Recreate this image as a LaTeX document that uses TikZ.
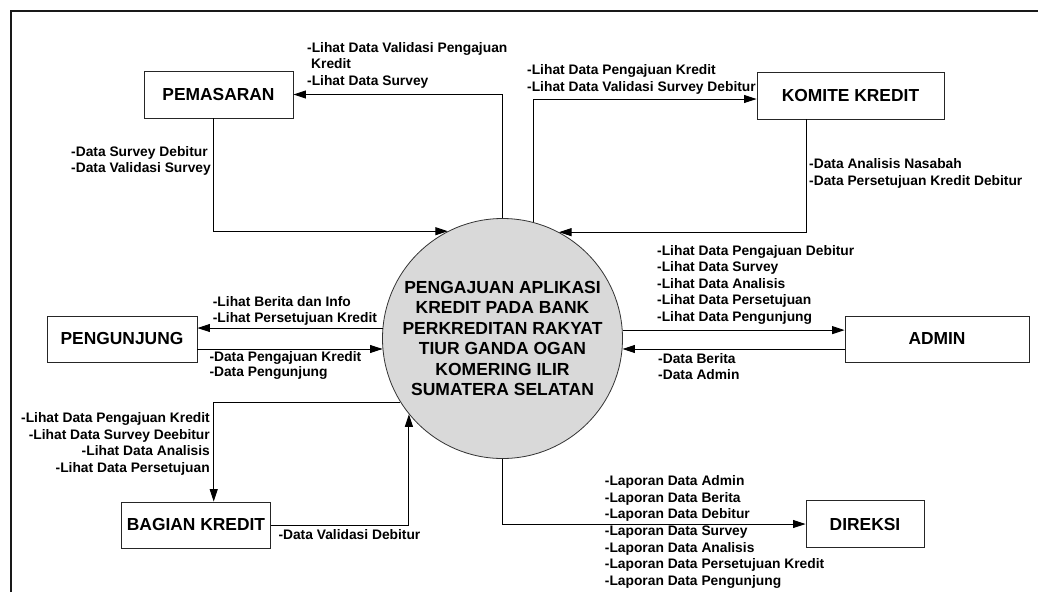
\documentclass[tikz,border=0pt]{standalone}
\usepackage{fontspec}
\setmainfont{Liberation Sans}
\usetikzlibrary{arrows.meta}
\begin{document}
\begin{tikzpicture}[x=1pt,y=-1pt,
  ent/.style={draw=black!85, line width=0.9pt, inner sep=0pt, font=\fontsize{17.4}{20.5}\selectfont\bfseries},
  lbl/.style={inner sep=0pt, align=left, anchor=north west, font=\fontsize{13.8}{16.6}\selectfont\bfseries},
  flow/.style={draw=black, line width=0.9pt, -{Triangle[length=12.5pt,width=8pt]}}]
\useasboundingbox (0,0) rectangle (1038,592);
\draw[line width=2pt, draw=black!90] (10.5,592) -- (10.5,11) -- (1038,11);

% process
\node[circle, draw=black!80, line width=0.8pt, fill=gray!30, minimum size=240pt, inner sep=0pt, align=center,
      font=\fontsize{17.5}{20.5}\selectfont\bfseries] (c) at (502.5,338.5)
  {PENGAJUAN APLIKASI\\KREDIT PADA BANK\\PERKREDITAN RAKYAT\\TIUR GANDA OGAN\\KOMERING ILIR\\SUMATERA SELATAN};

% entities
\node[ent, minimum width=149pt, minimum height=47pt] (pem) at (218.5,94.5) {PEMASARAN};
\node[ent, minimum width=187pt, minimum height=47pt] (kom) at (850.5,95.5) {KOMITE KREDIT};
\node[ent, minimum width=150pt, minimum height=46pt] (pen) at (122,339) {PENGUNJUNG};
\node[ent, minimum width=149pt, minimum height=46pt] (bag) at (196,525) {BAGIAN KREDIT};
\node[ent, minimum width=184pt, minimum height=46pt] (adm) at (937,339) {ADMIN};
\node[ent, minimum width=118pt, minimum height=47pt] (dir) at (865,524) {DIREKSI};

% flows
\draw[flow] (c.north) |- (pem.east);
\draw[flow] ([xshift=-5pt]pem.south) |- (c.117.1);
\draw[flow] (c.75.8) |- ([yshift=-3.5pt]kom.west);
\draw[flow] ([xshift=-44pt]kom.south) |- (c.62.9);
\draw[flow] (c.4.06) -- (c.4.06 -| adm.west);
\draw[flow] (c.-5.2 -| adm.west) -- (c.-5.2);
\draw[flow] (c.175.94) -- (c.175.94 -| pen.east);
\draw[flow] (c.185.2 -| pen.east) -- (c.185.2);
\draw[flow] (c.212.7) -| ([xshift=17.7pt]bag.north);
\draw[flow] (bag.east) -| (c.219.4);
\draw[flow] (c.south) |- (dir.west);

% labels
\node[lbl] (l1) at (307,41.9) {-Lihat Data Validasi Pengajuan\\\hspace*{4pt}Kredit\\-Lihat Data Survey};
\node[lbl] (l2) at (71,145.9) {-Data Survey Debitur\\-Data Validasi Survey};
\node[lbl] (l3) at (527,64.2) {-Lihat Data Pengajuan Kredit\\-Lihat Data Validasi Survey Debitur};
\node[lbl] (l4) at (809,158.5) {-Data Analisis Nasabah\\-Data Persetujuan Kredit Debitur};
\node[lbl, font=\fontsize{13.8}{16.5}\selectfont\bfseries] (l5) at (657,245.2) {-Lihat Data Pengajuan Debitur\\-Lihat Data Survey\\-Lihat Data Analisis\\-Lihat Data Persetujuan\\-Lihat Data Pengunjung};
\node[lbl] (l6) at (658,352.9) {-Data Berita\\-Data Admin};
\node[lbl] (l7) at (212.7,295.9) {-Lihat Berita dan Info\\-Lihat Persetujuan Kredit};
\node[lbl, font=\fontsize{13.8}{15.4}\selectfont\bfseries] (l8) at (209.3,350.9) {-Data Pengajuan Kredit\\-Data Pengunjung};
\node[lbl, anchor=north east, align=right, font=\fontsize{13.8}{16.5}\selectfont\bfseries] (l9) at (210,412.5) {-Lihat Data Pengajuan Kredit\\-Lihat Data Survey Deebitur\\-Lihat Data Analisis\\-Lihat Data Persetujuan};
\node[lbl] (l10) at (278.3,528.9) {-Data Validasi Debitur};
\node[lbl, font=\fontsize{13.8}{16.67}\selectfont\bfseries] (l11) at (604.7,475.2) {-Laporan Data Admin\\-Laporan Data Berita\\-Laporan Data Debitur\\-Laporan Data Survey\\-Laporan Data Analisis\\-Laporan Data Persetujuan Kredit\\-Laporan Data Pengunjung};
\end{tikzpicture}
\end{document}
